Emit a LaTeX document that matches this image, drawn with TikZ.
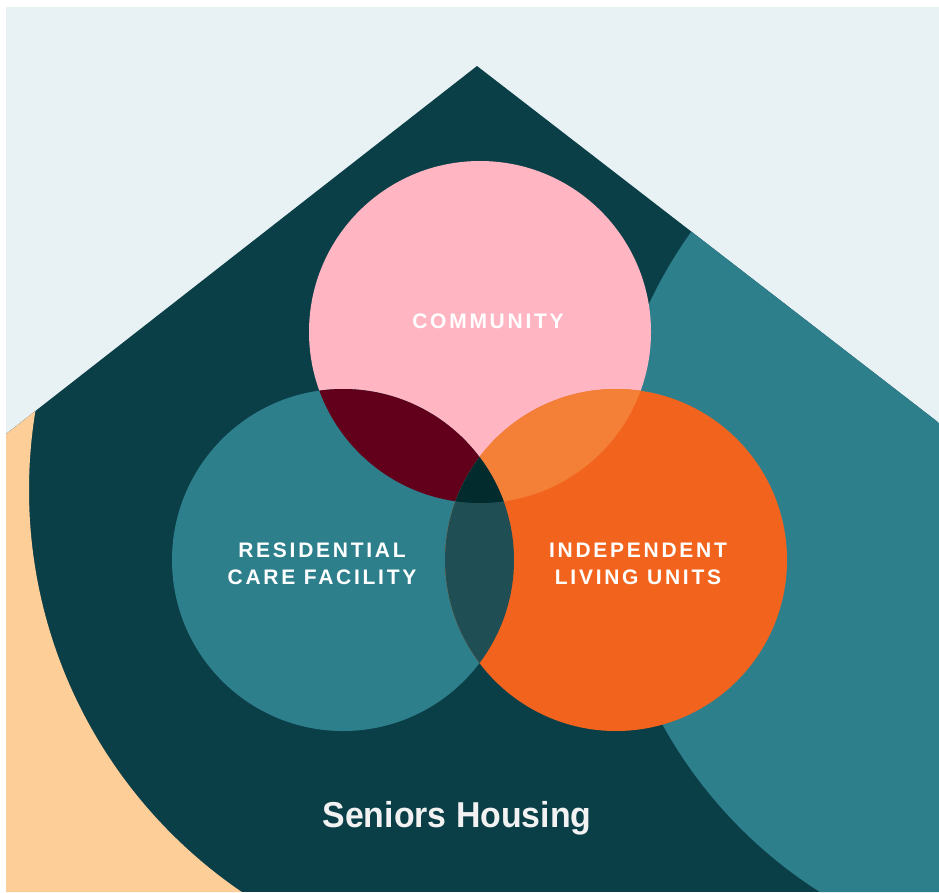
\documentclass[tikz,border=0pt]{standalone}
\usepackage{fontspec}
\setmainfont{Liberation Sans}
\newfontfamily\capsfont[LetterSpace=13]{Liberation Sans}
\newfontfamily\titlefont[FakeStretch=0.94]{Liberation Sans}
\usetikzlibrary{positioning}

\definecolor{skygrey}{HTML}{E8F1F3}
\definecolor{deepteal}{HTML}{0B3F48}
\definecolor{seateal}{HTML}{2E7F8C}
\definecolor{peach}{HTML}{FECE98}
\definecolor{rosepink}{HTML}{FFB5C2}
\definecolor{flame}{HTML}{F2641E}
\definecolor{maroon}{HTML}{62001C}
\definecolor{lightflame}{HTML}{F47F36}
\definecolor{slateteal}{HTML}{1F4F55}
\definecolor{nightteal}{HTML}{022B2E}

\begin{document}
\begin{tikzpicture}[x=1pt,y=-1pt,
    venn/.style={text=white,align=center,
      font=\capsfont\bfseries\fontsize{21}{27}\selectfont},
    caption/.style={text=white!95!black,
      font=\titlefont\bfseries\fontsize{36}{40}\selectfont}]
  \useasboundingbox (0,0) rectangle (939,892);
  \fill[white] (0,0) rectangle (939,892);
  \fill[skygrey] (6,7) rectangle (939,892);

  % house outline with the two big arcs inside
  \coordinate (apex) at (477,66);
  \begin{scope}
    \clip (6,892) -- (6,434) -- (apex) -- (939,423) -- (939,892) -- cycle;
    \fill[deepteal] (6,0) rectangle (939,892);
    \begin{scope}
      \clip (6,0) rectangle (515,892);
      \fill[peach, even odd rule] (0,0) rectangle (1100,1000) (515,490) circle (486);
    \end{scope}
    \fill[seateal] (1068,501) circle (463);
  \end{scope}

  % the three circles
  \coordinate (comm) at (480,332);
  \coordinate (resi) at (343,560);
  \coordinate (indep) at (616,560);
  \fill[rosepink] (comm) circle (171);
  \fill[seateal] (resi) circle (171);
  \fill[flame] (indep) circle (171);
  \begin{scope}
    \clip (comm) circle (171);
    \fill[maroon] (resi) circle (171);
    \fill[lightflame] (indep) circle (171);
  \end{scope}
  \begin{scope}
    \clip (resi) circle (171);
    \fill[slateteal] (indep) circle (171);
    \clip (indep) circle (171);
    \fill[nightteal] (comm) circle (171);
  \end{scope}

  \node[venn] (community) at (488,321) {COMMUNITY};
  \node[venn] (residential) at (322,564) {RESIDENTIAL\\CARE FACILITY};
  \node[venn] (independent) at (638,564) {INDEPENDENT\\LIVING UNITS};
  \node[caption, anchor=base] (housing) at (457,827) {Seniors Housing};
\end{tikzpicture}
\end{document}
